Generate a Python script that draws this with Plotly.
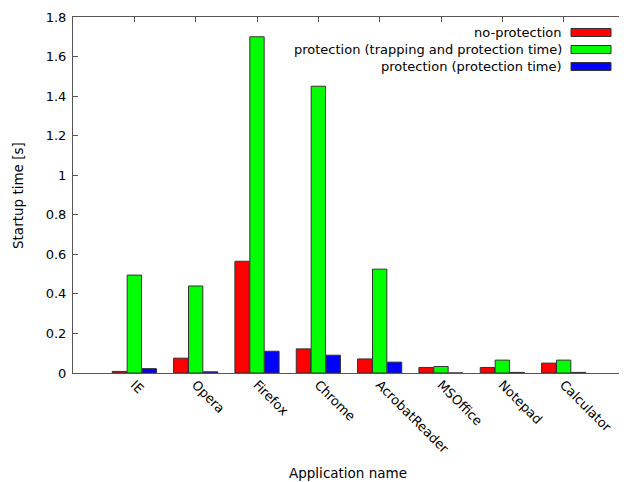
import plotly.graph_objects as go

apps = ["IE", "Opera", "Firefox", "Chrome", "AcrobatReader", "MSOffice", "Notepad", "Calculator"]
series_names = ["no-protection", "protection (trapping and protection time)", "protection (protection time)"]
no_protection = [0.008, 0.075, 0.565, 0.122, 0.071, 0.028, 0.028, 0.050]
trap_and_protect = [0.495, 0.440, 1.700, 1.450, 0.525, 0.033, 0.065, 0.065]
protect_only = [0.022, 0.006, 0.110, 0.090, 0.055, 0.0, 0.003, 0.003]
series_values = [no_protection, trap_and_protect, protect_only]
colors = ["#ff0000", "#00ff00", "#0000ff"]
y_ticks = [0, 0.2, 0.4, 0.6, 0.8, 1, 1.2, 1.4, 1.6, 1.8]

FONT = "DejaVu Sans"
positions = list(range(1, len(apps) + 1))

fig = go.Figure()
for name, vals, col in zip(series_names, series_values, colors):
    fig.add_trace(go.Bar(
        x=positions, y=vals, name=name,
        marker=dict(color=col, line=dict(color="#333333", width=1)),
        showlegend=False,
    ))

# page offset of the figure (default body margin)
OFF = 8
W, H = 627 - OFF, 482 - OFF
L, R, T, B = 73 - OFF, 2, 17 - OFF, 109
pw, ph = W - L - R, H - T - B
def px(x):  # x in window pixels -> paper
    return (x - OFF - L) / pw
def py(y):  # y in window pixels -> paper
    return (H - B - (y - OFF)) / ph

# manual gnuplot-style legend (text left of sample box)
rows = [32.5, 49.5, 66.5]
for name, col, yc in zip(series_names, colors, rows):
    fig.add_annotation(x=px(564), y=py(yc), xref="paper", yref="paper",
                       text=name, showarrow=False, xanchor="right", yanchor="middle",
                       font=dict(family=FONT, size=13, color="#000"))
    fig.add_shape(type="rect", xref="paper", yref="paper",
                  x0=px(571), x1=px(611), y0=py(yc - 4), y1=py(yc + 4),
                  fillcolor=col, line=dict(color="#333333", width=1))

# axis titles
fig.add_annotation(x=px(348), y=py(473), xref="paper", yref="paper",
                   text="Application name", showarrow=False,
                   xanchor="center", yanchor="middle",
                   font=dict(family=FONT, size=13.5, color="#000"))
fig.add_annotation(x=px(18), y=py(196), xref="paper", yref="paper",
                   text="Startup time [s]", showarrow=False, textangle=-90,
                   xanchor="center", yanchor="middle",
                   font=dict(family=FONT, size=13.5, color="#000"))

fig.update_layout(
    width=W, height=H,
    margin=dict(l=L, r=R, t=T, b=B, autoexpand=False),
    paper_bgcolor="white", plot_bgcolor="white",
    barmode="group", bargap=0.27, bargroupgap=0.04,
    font=dict(family=FONT, size=13, color="#000"),
)
fig.update_xaxes(
    range=[0, 9], tickmode="array", tickvals=positions, ticktext=apps,
    tickangle=45, ticks="inside", ticklen=5, tickcolor="#555",
    ticklabelstandoff=-2,
    showline=True, linecolor="#555", linewidth=1, mirror="ticks",
    showgrid=False, zeroline=False, layer="below traces",
    automargin=False,
)
fig.update_yaxes(
    range=[0, 1.8], tickmode="array", tickvals=y_ticks,
    ticktext=[str(v) for v in y_ticks],
    ticks="inside", ticklen=5, tickcolor="#555",
    ticklabelstandoff=3,
    showline=True, linecolor="#555", linewidth=1, mirror="ticks",
    showgrid=False, zeroline=False, automargin=False,
)

fig.write_html("out.html")
